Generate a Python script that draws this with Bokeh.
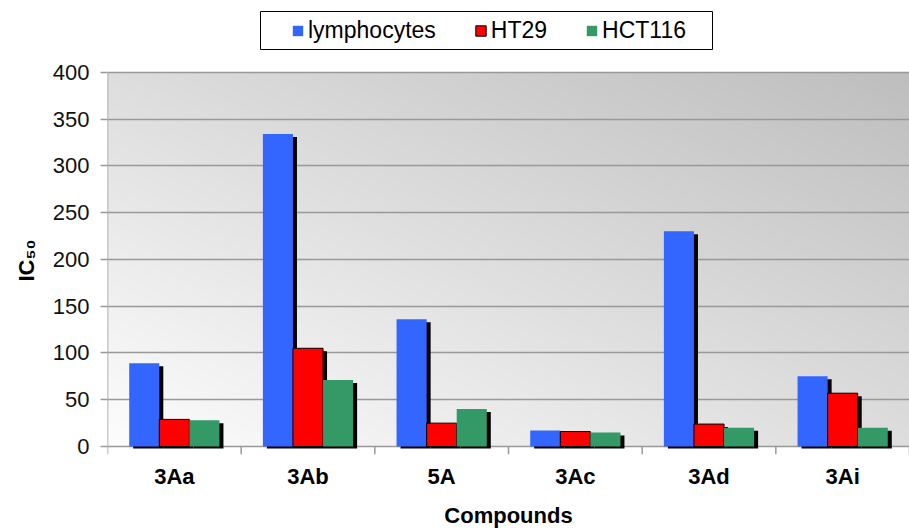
import numpy as np
from bokeh.plotting import figure
from bokeh.models import (ColumnDataSource, FactorRange, Range1d, FixedTicker,
                          Legend, LegendItem, BoxAnnotation, Title)
from bokeh.transform import dodge
from bokeh.embed import file_html
from bokeh.resources import INLINE

# ---- data ----
categories = ["3Aa", "3Ab", "5A", "3Ac", "3Ad", "3Ai"]
lymphocytes = [89, 334, 136, 17, 230, 75]
ht29 = [29, 105, 25, 16, 24, 57]
hct116 = [28, 71, 40, 15, 20, 20]
series_names = ["lymphocytes", "HT29", "HCT116"]
y_ticks = [0, 50, 100, 150, 200, 250, 300, 350, 400]

# ---- style ----
colors = ["#3366ff", "#ff0000", "#339966"]
outline = [None, "black", None]
FONT = "Liberation Sans"
W, H = 909, 530
LEFT, RIGHT, TOP, BOTTOM = 107, 0, 0, 75
ABOVE_PX, BELOW_PX = 72, 8        # frame room above 400 (legend) and below 0
frame_w = W - LEFT - RIGHT
frame_h = H - TOP - BOTTOM
y_max = max(y_ticks)
unit_px = (frame_h - ABOVE_PX - BELOW_PX) / y_max
y_lo = -BELOW_PX / unit_px
y_hi = y_max + ABOVE_PX / unit_px
px_y = 1.0 / unit_px
px_x = len(categories) / frame_w

bar_w = 0.225
offsets = [-bar_w, 0.0, bar_w]
sh_dx, sh_dy, sh_bot = 4 * px_x, 3 * px_y, -2 * px_y

p = figure(x_range=FactorRange(*categories), y_range=Range1d(y_lo, y_hi),
           width=W, height=H, output_backend="svg", toolbar_location=None,
           min_border_left=LEFT, min_border_right=RIGHT,
           min_border_top=TOP, min_border_bottom=BOTTOM)
p.x_range.range_padding = 0
p.outline_line_color = None
p.background_fill_color = "white"
p.border_fill_color = "white"

# gradient background of the plot area (bottom-left light, top-right grey)
gh, gw = 200, 400
yy, xx = np.mgrid[0:gh, 0:gw]
t = (xx / (gw - 1) + yy / (gh - 1)) / 2.0
g = (253 - t * (253 - 190)).astype(np.uint8)
img = np.empty((gh, gw), dtype=np.uint32)
v = img.view(dtype=np.uint8).reshape((gh, gw, 4))
v[:, :, 0] = g
v[:, :, 1] = g
v[:, :, 2] = g
v[:, :, 3] = 255
p.image_rgba(image=[img], x=0, y=0, dw=len(categories), dh=y_max, level="image")

# bars with drop shadows
series = [lymphocytes, ht29, hct116]
renderers = []
for vals, off in zip(series, offsets):
    src = ColumnDataSource(dict(cat=categories,
                                top=[val - sh_dy for val in vals],
                                bottom=[sh_bot] * len(vals)))
    p.vbar(x=dodge("cat", off + sh_dx, range=p.x_range), top="top", bottom="bottom",
           width=bar_w, source=src, fill_color="black", line_color=None)
for vals, off, c, lc in zip(series, offsets, colors, outline):
    src = ColumnDataSource(dict(cat=categories, val=vals))
    r = p.vbar(x=dodge("cat", off, range=p.x_range), top="val", bottom=0,
               width=bar_w, source=src, fill_color=c, line_color=lc, line_width=1)
    renderers.append(r)

# value-axis line (0..400) and category boundary ticks below the baseline
p.segment(x0=[0], x1=[0], y0=[y_lo], y1=[y_max], line_color="#999999", line_width=1.5)
bounds = list(range(1, len(categories) + 1))
p.segment(x0=bounds, x1=bounds, y0=[0] * len(bounds), y1=[y_lo] * len(bounds),
          line_color="#999999", line_width=1.5)

# axes
p.yaxis.ticker = FixedTicker(ticks=y_ticks)
p.ygrid.ticker = FixedTicker(ticks=y_ticks)
p.ygrid.grid_line_color = "#999999"
p.ygrid.grid_line_width = 1.5
p.xgrid.grid_line_color = None
p.yaxis.axis_line_color = None
p.yaxis.major_tick_line_color = "#999999"
p.yaxis.major_tick_line_width = 1.5
p.yaxis.major_tick_out = 7
p.yaxis.major_tick_in = 0
p.yaxis.minor_tick_line_color = None
p.yaxis.major_label_standoff = 11
p.yaxis.major_label_text_font = FONT
p.yaxis.major_label_text_font_size = "22px"
p.yaxis.major_label_text_color = "#111111"

ytitle = Title(text="IC₅₀", align="left", offset=173, standoff=22,
               text_font=FONT, text_font_size="22px", text_font_style="bold",
               text_color="black")
p.add_layout(ytitle, "left")

p.xaxis.axis_line_color = None
p.xaxis.major_tick_line_color = None
p.xaxis.minor_tick_line_color = None
p.xaxis.major_tick_out = 0
p.xaxis.major_tick_in = 0
p.xaxis.major_label_standoff = 9
p.xaxis.major_label_text_font = FONT
p.xaxis.major_label_text_font_size = "22px"
p.xaxis.major_label_text_font_style = "bold"
p.xaxis.major_label_text_color = "black"
p.xaxis.axis_label = "Compounds"
p.xaxis.axis_label_text_font = FONT
p.xaxis.axis_label_text_font_size = "22px"
p.xaxis.axis_label_text_font_style = "bold"
p.xaxis.axis_label_text_color = "black"
p.xaxis.axis_label_standoff = 11

# legend box + legend at the top of the frame (screen px, origin bottom-left of frame)
box = BoxAnnotation(left=153, right=605, bottom=frame_h - 50, top=frame_h - 12,
                    left_units="screen", right_units="screen",
                    top_units="screen", bottom_units="screen",
                    fill_color="white", fill_alpha=1, line_color="black",
                    line_width=1, line_alpha=1)
p.add_layout(box)
legend = Legend(items=[LegendItem(label=n, renderers=[r]) for n, r in zip(series_names, renderers)],
                orientation="horizontal", location=(184, frame_h - 45),
                label_text_font=FONT, label_text_font_size="23px",
                label_text_color="black",
                glyph_width=13, glyph_height=13, label_standoff=4, spacing=38,
                padding=6, border_line_color=None, background_fill_alpha=0)
p.add_layout(legend, "center")

open("out.html", "w").write(file_html(p, INLINE))
